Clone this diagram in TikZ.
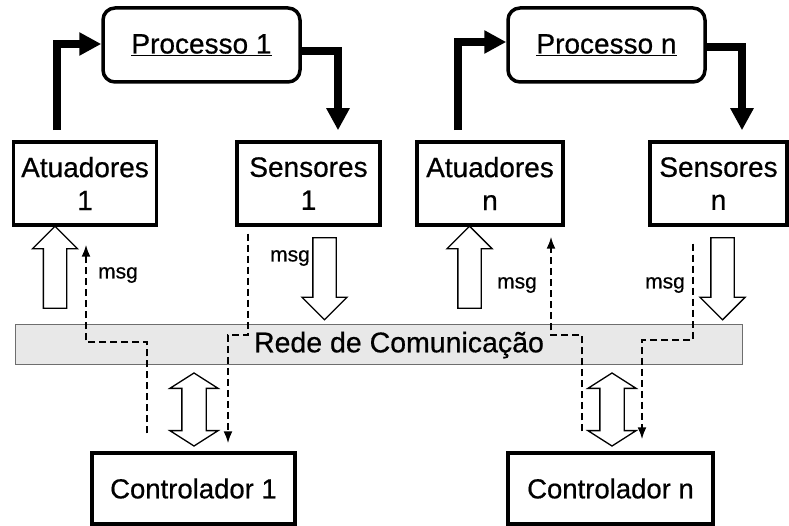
\documentclass[tikz,border=0pt]{standalone}
\usepackage{fontspec}
\setmainfont{Liberation Sans}[UprightFeatures={FakeBold=0.6}]
\usetikzlibrary{arrows.meta,shapes.arrows,shadows}

\definecolor{redecinza}{HTML}{E8E8E8}
\definecolor{redeborda}{HTML}{6E6E6E}

\tikzset{
  procbox/.style={draw, line width=3.5pt, rounded corners=12pt,
    minimum width=197pt, minimum height=74pt, font=\fontsize{28}{33}\selectfont},
  iobox/.style={draw, line width=3.5pt, fill=white, align=center,
    minimum width=143pt, minimum height=83pt, inner sep=0pt,
    font=\fontsize{28}{33}\selectfont,
    drop shadow={shadow xshift=1.5pt, shadow yshift=-1.5pt, opacity=1, fill=black}},
  ctrlbox/.style={iobox, minimum width=203pt, minimum height=71pt,
    font=\fontsize{27.5}{30}\selectfont},
  flow/.style={line width=8pt, -{Triangle[length=22pt,width=22pt]}},
  hollow/.style={single arrow, draw, line width=1.3pt, fill=white,
    inner sep=11pt, minimum width=0pt, minimum height=82pt,
    single arrow head extend=11pt},
  dhollow/.style={double arrow, draw, line width=1.3pt, fill=white,
    inner sep=11.5pt, minimum width=0pt, minimum height=73pt,
    double arrow head extend=12pt, double arrow tip angle=115},
  msgline/.style={line width=1.8pt, dash pattern=on 7pt off 4pt,
    -{Latex[length=12pt,width=9pt]}},
  msglbl/.style={font=\fontsize{21}{24}\selectfont, inner sep=0pt}
}

\begin{document}
\begin{tikzpicture}[x=1pt, y=-1pt]
    \useasboundingbox (0,0) rectangle (789,526);

    \node[procbox]                                (p1) at (201.5,45) {\underline{Processo 1}};
    \node[procbox, right of=p1, node distance=405pt] (pn) {\underline{Processo n}};

    \node[iobox]                                    (a1) at (85,183.5) {Atuadores\\1};
    \node[iobox, right of=a1, node distance=223.5pt] (s1) {Sensores\\1};
    \node[iobox, right of=s1, node distance=181.5pt, minimum width=146pt] (an) {Atuadores\\n};
    \node[iobox, right of=an, node distance=228.5pt, minimum width=137pt] (sn) {Sensores\\n};

    \node[draw=redeborda, fill=redecinza, line width=0.8pt,
          minimum width=727pt, minimum height=40pt] (net) at (378.5,344) {};
    \node[font=\fontsize{28.5}{33}\selectfont] (netlbl) at (399,345) {Rede de Comunicação};

    \node[ctrlbox]                                  (c1) at (193.5,488.5) {Controlador 1};
    \node[ctrlbox, right of=c1, node distance=417pt, minimum width=205pt] (cn) {Controlador n};

    % processos
    \draw[flow] ([xshift=-28pt,yshift=10pt]a1.north) |- ([yshift=1pt]p1.west);
    \draw[flow] ([yshift=-6pt]p1.east) -| ([xshift=29.5pt,yshift=10pt]s1.north);
    \draw[flow] ([xshift=-32pt,yshift=10pt]an.north) |- ([yshift=3pt]pn.west);
    \draw[flow] ([yshift=-2pt]pn.east) -| ([xshift=23.5pt,yshift=10pt]sn.north);

    % acesso a rede
    \node[hollow, rotate=90]  (ua1) at (55,273) {};
    \node[hollow, rotate=-90] (ds1) at (324.5,273) {};
    \node[hollow, rotate=90]  (uan) at (469.5,273) {};
    \node[hollow, rotate=-90] (dsn) at (722.5,273) {};
    \node[dhollow, rotate=90] (dc1) at (194,409.5) {};
    \node[dhollow, rotate=90] (dcn) at (612,409.5) {};

    % mensagens
    \draw[msgline] ([xshift=-46.5pt,yshift=18pt]c1.north) -- ++(0,-91) -| ([xshift=1pt,yshift=-18pt]a1.south);
    \draw[msgline] ([xshift=-60.5pt,yshift=-7pt]s1.south) -- ++(0,101) -| ([xshift=34.5pt,yshift=8pt]c1.north);
    \draw[msgline] ([xshift=-28.5pt,yshift=20pt]cn.north) -- ++(0,-96) -| ([xshift=61pt,yshift=-10pt]an.south);
    \draw[msgline] ([xshift=-25.5pt,yshift=-17pt]sn.south) -- ++(0,96) -| ([xshift=31.5pt,yshift=12pt]cn.north);

    \node[msglbl] (m1) at (118,275) {msg};
    \node[msglbl] (m2) at (290,258) {msg};
    \node[msglbl] (m3) at (517,285) {msg};
    \node[msglbl] (m4) at (665,285) {msg};
  \end{tikzpicture}
\end{document}
